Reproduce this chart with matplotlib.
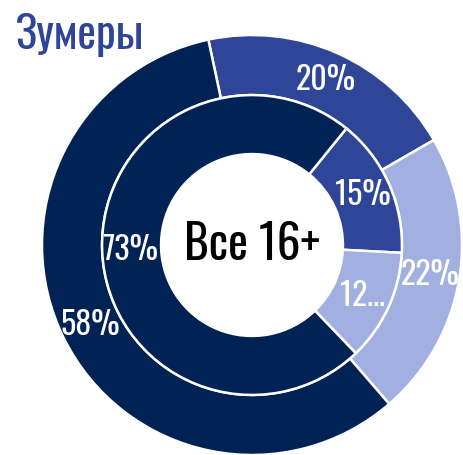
import numpy as np
import matplotlib.pyplot as plt

plt.rcParams['font.family'] = ['Oswald', 'DejaVu Sans']

# data
title = 'Зумеры'
center_label = 'Все 16+'
outer_values = [20, 22, 58]
outer_labels = ['20%', '22%', '58%']
inner_values = [15, 12, 73]
inner_labels = ['15%', '12…', '73%']
colors = ['#2f4598', '#a2afe1', '#002254']

fig = plt.figure(figsize=(4.63, 4.55), dpi=100)
ax = fig.add_axes([42 / 463, 0 / 455, 420 / 463, 420 / 455])

w_out, _ = ax.pie(outer_values, radius=1.0, startangle=102, counterclock=False,
                  colors=colors, wedgeprops=dict(width=0.286, edgecolor='white', linewidth=1.8))
w_in, _ = ax.pie(inner_values, radius=0.714, startangle=51, counterclock=False,
                 colors=colors, wedgeprops=dict(width=0.281, edgecolor='white', linewidth=1.8))


def put_labels(wedges, labels, r):
    for w, lab in zip(wedges, labels):
        ang = np.deg2rad((w.theta1 + w.theta2) / 2)
        ax.text(r * np.cos(ang), r * np.sin(ang), lab, ha='center', va='center',
                color='white', fontsize=23)


put_labels(w_out, outer_labels, 0.86)
put_labels(w_in, inner_labels, 0.58)

ax.text(0, 0, center_label, ha='center', va='center', fontsize=34, color='black')
ax.set_xlim(-1, 1)
ax.set_ylim(-1, 1)
ax.set_aspect('equal')

fig.text(16 / 463, 1 - 35 / 455, title, ha='left', va='center', fontsize=32,
         color='#2f4598')

fig.savefig('out.png', dpi=100)
